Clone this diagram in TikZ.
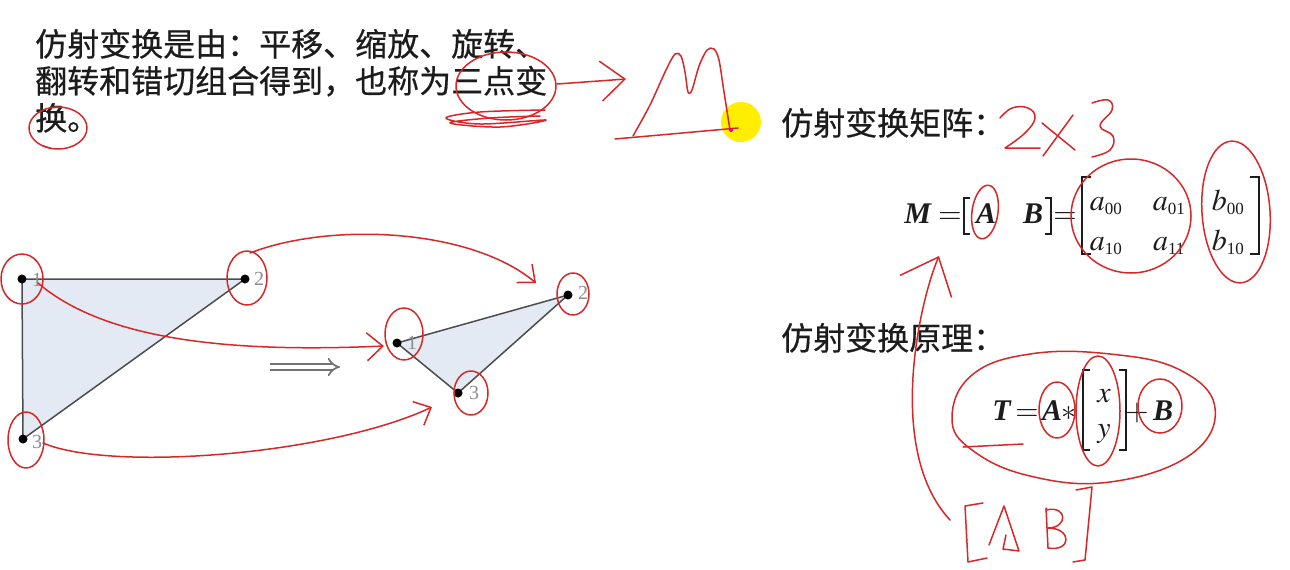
\documentclass[tikz,border=0pt]{standalone}
\usepackage{mathptmx}
\usepackage{fontspec}
\setmainfont{Liberation Serif}
\newfontfamily\cjk{Noto Sans CJK SC}[FakeBold=0.5]
\usepackage{tikz}
\usetikzlibrary{arrows.meta}
\definecolor{ink}{RGB}{28,28,28}
\definecolor{penred}{RGB}{214,40,40}
\definecolor{trifill}{RGB}{228,234,243}
\definecolor{marker}{RGB}{255,238,0}
\newcommand{\idx}[1]{\mbox{\fontsize{17}{17}\selectfont #1}}

\begin{document}
\begin{tikzpicture}[x=1pt,y=-1pt,
  cn/.style={font=\cjk\fontsize{32}{38}\selectfont, text=ink, inner sep=0pt, anchor=base west},
  eq/.style={font=\fontsize{30}{36}\selectfont, text=ink, inner sep=0pt, anchor=base},
  vlab/.style={font=\fontsize{20}{24}\selectfont, text=black!45, inner sep=0pt},
  edge/.style={draw=black!70, line width=1.5pt, line join=round},
  brk/.style={draw=ink, line width=1.3pt},
  pen/.style={draw=penred, line width=1.5pt, line cap=round, line join=round}]
  \useasboundingbox (0,0) rectangle (1290,570);
  \fill[white] (0,0) rectangle (1290,570);

  % text
  \node[cn] (t1) at (35,56) {仿射变换是由：平移、缩放、旋转、};
  \node[cn] (t2) at (35,93) {翻转和错切组合得到，也称为三点变};
  \node[cn] (t3) at (35,130) {换。};
  \node[cn] (t4) at (781,135) {仿射变换矩阵：};
  \node[cn] (t5) at (781,350) {仿射变换原理：};

  % matrix M = [A B]
  \node[eq] (mM) at (918,223) {\textbf{\textit{M}}};
  \node[eq] (eqA) at (950,223) {$=$};
  \node[eq] (mA) at (986,223) {\textbf{\textit{A}}};
  \node[eq] (mB) at (1033,223) {\textbf{\textit{B}}};
  \node[eq] (eqB) at (1065,223) {$=$};
  \node[eq] (a00) at (1106,210) {$a_{\idx{00}}$};
  \node[eq] (a01) at (1169,210) {$a_{\idx{01}}$};
  \node[eq] (b00) at (1228,210) {$b_{\idx{00}}$};
  \node[eq] (a10) at (1106,250) {$a_{\idx{10}}$};
  \node[eq] (a11) at (1169,250) {$a_{\idx{11}}$};
  \node[eq] (b10) at (1228,250) {$b_{\idx{10}}$};
  \draw[brk] (970,198) -- (964,198) -- (964,234) -- (970,234);
  \draw[brk] (1045,198) -- (1051,198) -- (1051,234) -- (1045,234);
  \draw[brk] (1091,177) -- (1082,177) -- (1082,254) -- (1091,254);
  \draw[brk] (1250,177) -- (1259,177) -- (1259,254) -- (1250,254);

  % T = A*[x y]+B
  \node[eq] (tT) at (1002,420) {\textbf{\textit{T}}};
  \node[eq] (eqC) at (1027,420) {$=$};
  \node[eq] (tA) at (1052,420) {\textbf{\textit{A}}};
  \node[eq] (star) at (1069,420) {$*$};
  \node[eq] (vx) at (1104,402) {$x$};
  \node[eq] (vy) at (1104,437) {$y$};
  \node[eq] (plus) at (1137,420) {$+$};
  \node[eq] (tB) at (1163,420) {\textbf{\textit{B}}};
  \draw[brk] (1090,370) -- (1083,370) -- (1083,450) -- (1090,450);
  \draw[brk] (1119,370) -- (1126,370) -- (1126,450) -- (1119,450);

  % triangles
  \coordinate (L1) at (22,279);
  \coordinate (L2) at (245,279);
  \coordinate (L3) at (23,439);
  \coordinate (R1) at (397,343);
  \coordinate (R2) at (568,295);
  \coordinate (R3) at (458,393);
  \fill[trifill] (L1) -- (L2) -- (L3) -- cycle;
  \fill[trifill] (R1) -- (R2) -- (R3) -- cycle;
  \draw[edge] (L1) -- (L2) -- (L3) -- cycle;
  \draw[edge] (R1) -- (R2) -- (R3) -- cycle;
  \foreach \p in {L1,L2,L3,R1,R2,R3}
    \fill (\p) circle [radius=4.5];
  \node[vlab] (nL1) at (37,280) {1};
  \node[vlab] (nL2) at (259,279) {2};
  \node[vlab] (nL3) at (37,442) {3};
  \node[vlab] (nR1) at (412,343) {1};
  \node[vlab] (nR2) at (583,293) {2};
  \node[vlab] (nR3) at (474,393) {3};

  % implies arrow
  \coordinate (impS) at (270,367);
  \coordinate (impE) at (340,367);
  \draw[draw=black!55, line width=1.7pt, double=white, double distance=4.5pt, -{Implies}] (impS) -- (impE);

  % red pen: vertex circles
  \foreach \x/\y/\a/\b in {22/279/21/25, 247/278/20/27, 26/440/18/28, 404/334/19/26, 573/294/16/21, 471/393/17/22}
    \draw[pen] (\x,\y) ellipse [x radius=\a, y radius=\b];

  % red pen: vertex arcs
  \coordinate (c1s) at (38,283);
  \coordinate (c1e) at (384,346);
  \coordinate (c2s) at (250,253);
  \coordinate (c2e) at (536,283);
  \coordinate (c3s) at (43,443);
  \coordinate (c3e) at (432,407);
  \draw[pen, -{Straight Barb[length=16pt,width=28pt]}] (c1s) .. controls (110,345) and (250,352) .. (c1e);
  \draw[pen, -{Straight Barb[length=14pt,width=24pt]}] (c2s) .. controls (330,222) and (470,228) .. (c2e);
  \draw[pen, -{Straight Barb[length=14pt,width=26pt]}] (c3s) .. controls (110,472) and (330,455) .. (c3e);

  % red pen: top text
  \draw[pen] (58,128) ellipse [x radius=29, y radius=21];
  \draw[pen] (50,148) -- (43,146);
  \draw[pen] (506,86) ellipse [x radius=50, y radius=34];
  \draw[pen] plot[smooth, tension=0.6] coordinates {(545,110) (480,112) (446,118) (480,124) (546,120) (500,127) (450,123) (490,118) (540,116)};
  \coordinate (hS) at (557,84);
  \coordinate (hE) at (626,79);
  \draw[pen, -{Straight Barb[length=24pt,width=40pt]}] (hS) .. controls (590,82) .. (hE);

  % marker + M
  \fill[marker] (741,122) circle [radius=20];
  \draw[pen] plot[smooth, tension=0.5] coordinates {(633,136) (650,105) (666,70) (675,54) (681,56) (685,72) (688,92) (692,90) (699,66) (707,50) (714,49) (719,60) (724,92) (730,130)};
  \draw[pen] (615,139) .. controls (660,135) .. (738,128);
  \fill[magenta] (731,130) circle [radius=2];

  % 2x3
  \draw[pen] plot[smooth, tension=0.7] coordinates {(1000,118) (1012,108) (1028,108) (1035,118) (1025,133) (1005,148)} -- (1040,148);
  \draw[pen] (1042,123) -- (1075,150);
  \draw[pen] (1073,115) -- (1043,156);
  \draw[pen] plot[smooth, tension=0.7] coordinates {(1092,103) (1108,100) (1112,110) (1100,126) (1113,136) (1110,150) (1092,157)};

  % matrix circles
  \draw[pen, rotate around={-8:(985,212)}] (985,212) ellipse [x radius=13, y radius=27];
  \draw[pen] (1131,216) ellipse [x radius=60, y radius=57];
  \draw[pen, rotate around={4:(1236,212)}] (1236,212) ellipse [x radius=34, y radius=71];

  % up arrow
  \coordinate (uS) at (950,520);
  \coordinate (uE) at (939,256);
  \draw[pen, -{Straight Barb[length=32pt,width=56pt]}] (uS) .. controls (885,450) and (920,300) .. (uE);

  % equation circles
  \draw[pen] plot[smooth cycle, tension=0.7] coordinates {(952,418) (972,375) (1030,354) (1110,354) (1180,370) (1215,408) (1190,455) (1110,482) (1030,476) (972,450)};
  \draw[pen] (963,447) -- (1023,444);
  \draw[pen] (1057,410) ellipse [x radius=18, y radius=28];
  \draw[pen] (1098,411) ellipse [x radius=22, y radius=55];
  \draw[pen] (1160,406) ellipse [x radius=22, y radius=27];

  % [A B]
  \draw[pen] (983,503) -- (965,506) -- (968,562) -- (987,558);
  \draw[pen] (989,545) -- (1004,506) -- (1019,551) -- (1003,549) -- (1006,535);
  \draw[pen] (1046,508) -- (1048,548);
  \draw[pen] (1046,510) .. controls (1068,505) and (1068,528) .. (1048,528) .. controls (1072,528) and (1072,552) .. (1048,548);
  \draw[pen] (1076,490) -- (1092,487) -- (1085,560) -- (1073,562);
\end{tikzpicture}
\end{document}
